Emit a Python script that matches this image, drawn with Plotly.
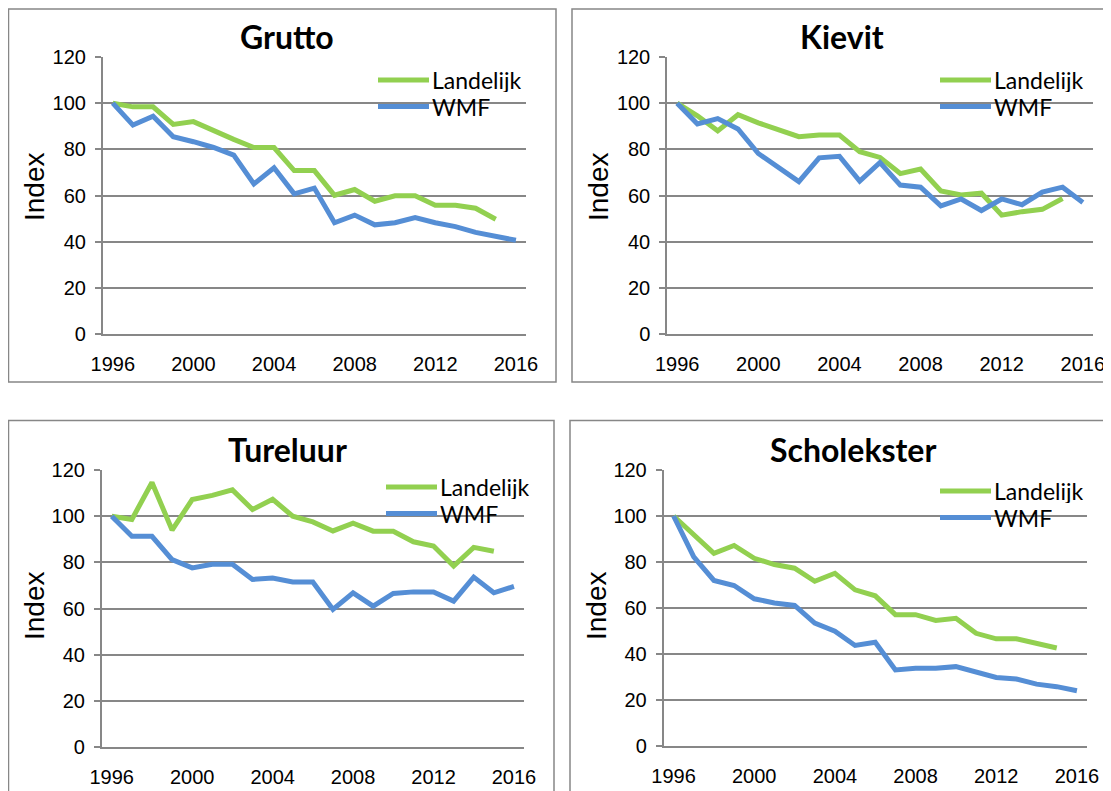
import plotly.graph_objects as go

W, H = 1111, 791
OFF = 8  # page body margin of the viewer

years = list(range(1996, 2017))
tick_years = [1996, 2000, 2004, 2008, 2012, 2016]
y_ticks = [0, 20, 40, 60, 80, 100, 120]
series_names = ["Landelijk", "WMF"]

# Grutto
grutto_landelijk = [100, 98.4, 98.4, 90.8, 92, 88, 84.3, 80.8, 80.8, 70.8, 70.8, 60.1, 62.6, 57.5, 59.9, 59.9, 55.8, 55.8, 54.5, 49.7]
grutto_wmf = [100, 90.5, 94.3, 85.5, 83.3, 80.8, 77.5, 65, 72, 60.7, 63.2, 48.2, 51.5, 47.3, 48.2, 50.4, 48.2, 46.5, 44, 42.3, 40.6]
# Kievit
kievit_landelijk = [100, 94.5, 88, 95, 91.5, 88.3, 85.5, 86.2, 86.2, 79, 76.5, 69.5, 71.5, 62, 60.2, 61, 51.5, 53, 54, 58.7]
kievit_wmf = [100, 91, 93.3, 88.8, 78.2, 72.2, 66, 76.3, 77, 66.2, 74.3, 64.5, 63.6, 55.5, 58.5, 53.5, 58.5, 56, 61.5, 63.6, 57]
# Tureluur
tureluur_landelijk = [100, 98.6, 114.6, 94, 107.2, 109, 111.4, 102.9, 107.3, 100, 97.5, 93.6, 97, 93.5, 93.5, 88.9, 87.1, 78.4, 86.5, 84.8]
tureluur_wmf = [100, 91.3, 91.3, 81.2, 77.6, 79.2, 79.2, 72.6, 73.2, 71.5, 71.5, 59.6, 66.8, 61, 66.5, 67.2, 67.2, 63.2, 73.6, 66.8, 69.6]
# Scholekster
scholekster_landelijk = [100, 92.2, 83.8, 87.2, 81.6, 78.9, 77.3, 71.6, 75.1, 67.9, 65.3, 57.1, 57.1, 54.6, 55.5, 49, 46.6, 46.6, 44.8, 42.6]
scholekster_wmf = [100, 82.2, 72, 69.8, 64, 62.2, 61.1, 53.4, 49.9, 43.7, 45.1, 33.1, 33.8, 33.8, 34.5, 32, 29.8, 29.1, 26.9, 25.8, 24]

panels = [
    dict(title="Grutto", land=grutto_landelijk, wmf=grutto_wmf),
    dict(title="Kievit", land=kievit_landelijk, wmf=kievit_wmf),
    dict(title="Tureluur", land=tureluur_landelijk, wmf=tureluur_wmf),
    dict(title="Scholekster", land=scholekster_landelijk, wmf=scholekster_wmf),
]

# layout geometry in screen pixels
plot_boxes = [  # x0, x1, ytop, ybottom
    (102.7, 526, 57, 334),
    (667, 1093, 57, 334),
    (101.7, 524, 470, 747),
    (663.5, 1087, 470, 746),
]
frames = [
    (8.5, 556, 9, 382),
    (572, 1107, 9, 382),
    (8.5, 554, 420.5, 810),
    (570, 1107, 420.5, 810),
]
title_pos = [(287, 37), (842, 37), (287, 449), (853, 449)]
index_pos = [(34, 187), (598, 187), (34, 606), (596, 606)]
legend_pos = [(378, 80), (940, 80), (386, 487), (940, 491)]  # line start x, first item y
legend_gap = 26.5
legend_box = [(372, 64, 535, 122), (934, 64, 1100, 122), (380, 471, 530, 528), (934, 475, 1095, 532)]

GREEN = "#92D050"
BLUE = "#558ED5"
GRID = "#878787"
colors = [GREEN, BLUE]

fig = go.Figure()
layout = dict(
    width=W, height=H, margin=dict(l=0, r=0, t=0, b=0, pad=0, autoexpand=False),
    paper_bgcolor="white", plot_bgcolor="white", showlegend=False, template="none",
    font=dict(family="Liberation Sans, Arial", size=20, color="black"),
    annotations=[], shapes=[],
)


def px(x):
    return (x - OFF) / W


def py(y):
    return 1 - (y - OFF) / H


for i, p in enumerate(panels):
    n = i + 1
    xa = "x" if n == 1 else f"x{n}"
    ya = "y" if n == 1 else f"y{n}"
    for name, vals, col in zip(series_names, [p["land"], p["wmf"]], colors):
        fig.add_trace(go.Scatter(x=years[:len(vals)], y=vals, mode="lines", name=name,
                                 line=dict(color=col, width=5), xaxis=xa, yaxis=ya))
    x0, x1, yt, yb = plot_boxes[i]
    xkey = "xaxis" if n == 1 else f"xaxis{n}"
    ykey = "yaxis" if n == 1 else f"yaxis{n}"
    layout[xkey] = dict(domain=[px(x0), px(x1)], anchor=ya, range=[1995.5, 2016.5],
                        tickvals=tick_years, showgrid=False, zeroline=False, automargin=False,
                        showline=True, linecolor=GRID, linewidth=1.5, ticks="",
                        ticklabelstandoff=11, tickfont=dict(size=20))
    layout[ykey] = dict(domain=[py(yb), py(yt)], anchor=xa, range=[0, 120], automargin=False,
                        tickvals=y_ticks, showgrid=True, gridcolor=GRID, gridwidth=1.5,
                        zeroline=False, showline=True, linecolor=GRID, linewidth=1.5,
                        ticks="outside", ticklen=6, tickcolor=GRID, tickwidth=1.5,
                        ticklabelstandoff=5, tickfont=dict(size=20))
    # frame
    fx0, fx1, fy0, fy1 = frames[i]
    layout["shapes"].append(dict(type="rect", xref="paper", yref="paper",
                                 x0=px(fx0), x1=px(fx1), y0=py(fy1), y1=py(fy0),
                                 line=dict(color=GRID, width=1.5), layer="below"))
    # legend background (hides gridlines, under the lines)
    bx0, by0, bx1, by1 = legend_box[i]
    layout["shapes"].append(dict(type="rect", xref="paper", yref="paper",
                                 x0=px(bx0), x1=px(bx1), y0=py(by1), y1=py(by0),
                                 line=dict(width=0), fillcolor="white", layer="between"))
    lx, ly = legend_pos[i]
    for k, (name, col) in enumerate(zip(series_names, colors)):
        yy = ly + k * legend_gap
        layout["shapes"].append(dict(type="line", xref="paper", yref="paper",
                                     x0=px(lx), x1=px(lx + 51), y0=py(yy), y1=py(yy),
                                     line=dict(color=col, width=5), layer="above"))
        layout["annotations"].append(dict(text=name, xref="paper", yref="paper",
                                          x=px(lx + 53), y=py(yy), xanchor="left", yanchor="middle",
                                          showarrow=False, height=24, borderpad=0,
                                          font=dict(family="Lato", size=23, color="black")))
    tx, ty = title_pos[i]
    layout["annotations"].append(dict(text="<b>" + p["title"] + "</b>", xref="paper", yref="paper",
                                      x=px(tx), y=py(ty), xanchor="center", yanchor="middle",
                                      showarrow=False, font=dict(family="Lato", size=32, color="black")))
    ix, iy = index_pos[i]
    layout["annotations"].append(dict(text="Index", xref="paper", yref="paper", textangle=-90,
                                      x=px(ix), y=py(iy), xanchor="center", yanchor="middle",
                                      showarrow=False,
                                      font=dict(family="Liberation Sans, Arial", size=28, color="black")))

fig.update_layout(**layout)
fig.write_html("out.html")
